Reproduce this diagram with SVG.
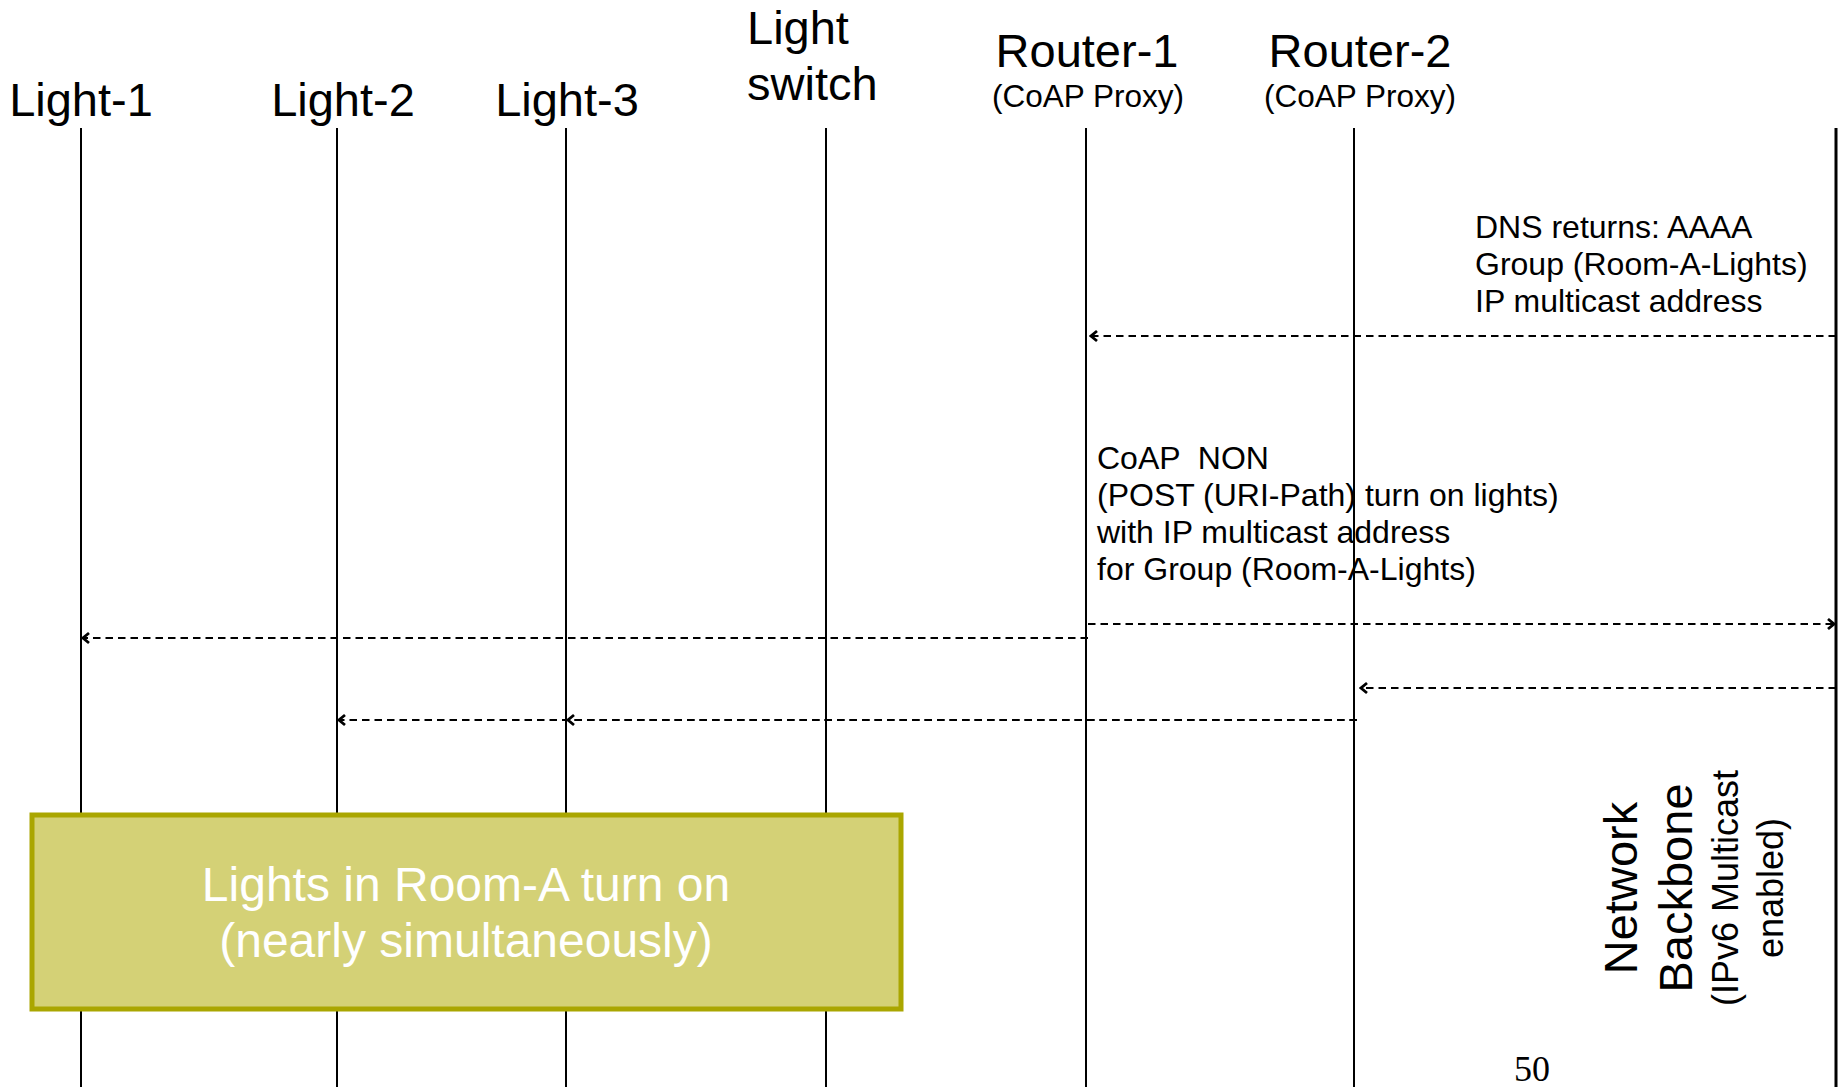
<svg xmlns="http://www.w3.org/2000/svg" width="1839" height="1087" viewBox="0 0 1839 1087">
  <style>
    .head { font-family: "Liberation Sans", Arial, sans-serif; font-size: 47px; fill: #000; }
    .sub { font-family: "Liberation Sans", Arial, sans-serif; font-size: 31.5px; fill: #000; }
    .body { font-family: "Liberation Sans", Arial, sans-serif; font-size: 32px; fill: #000; }
    .life { stroke: #000; stroke-width: 2; fill: none; }
    .msg { stroke: #000; stroke-width: 2.2; stroke-dasharray: 7.5 5; fill: none; marker-end: url(#arr); }
    .boxtext { font-family: "Liberation Sans", Arial, sans-serif; font-size: 48px; fill: #fff; }
    .bb { font-family: "Liberation Sans", Arial, sans-serif; fill: #000; }
  </style>
  <defs>
    <marker id="arr" markerUnits="userSpaceOnUse" viewBox="-10 -8 12 16" markerWidth="12" markerHeight="16" refX="0" refY="0" orient="auto">
      <path d="M-6,-5 L0,0 L-6,5" fill="none" stroke="#000" stroke-width="2.8"/>
    </marker>
  </defs>

  <g id="light-1">
    <text class="head" x="81" y="116" text-anchor="middle">Light-1</text>
    <line class="life" x1="81" y1="128" x2="81" y2="1087"/>
  </g>
  <g id="light-2">
    <text class="head" x="343" y="116" text-anchor="middle">Light-2</text>
    <line class="life" x1="337" y1="128" x2="337" y2="1087"/>
  </g>
  <g id="light-3">
    <text class="head" x="567" y="116" text-anchor="middle">Light-3</text>
    <line class="life" x1="566" y1="128" x2="566" y2="1087"/>
  </g>
  <g id="light-switch">
    <text class="head" x="747" y="44">Light</text>
    <text class="head" x="747" y="100">switch</text>
    <line class="life" x1="826" y1="128" x2="826" y2="1087"/>
  </g>
  <g id="router-1">
    <text class="head" x="1087" y="67" text-anchor="middle">Router-1</text>
    <text class="sub" x="1088" y="107" text-anchor="middle">(CoAP Proxy)</text>
    <line class="life" x1="1086" y1="128" x2="1086" y2="1087"/>
  </g>
  <g id="router-2">
    <text class="head" x="1360" y="67" text-anchor="middle">Router-2</text>
    <text class="sub" x="1360" y="107" text-anchor="middle">(CoAP Proxy)</text>
    <line class="life" x1="1354" y1="128" x2="1354" y2="1087"/>
  </g>
  <g id="network-backbone">
    <line x1="1836" y1="128" x2="1836" y2="1087" stroke="#000" stroke-width="3"/>
    <g transform="translate(0,888) rotate(-90)">
      <text class="bb" x="0" y="1637" font-size="47" text-anchor="middle">Network</text>
      <text class="bb" x="0" y="1692" font-size="47" text-anchor="middle">Backbone</text>
      <text class="bb" x="0" y="1738" font-size="36" text-anchor="middle">(IPv6 Multicast</text>
      <text class="bb" x="0" y="1783" font-size="36" text-anchor="middle">enabled)</text>
    </g>
  </g>

  <g id="dns-label">
    <text class="body" x="1475" y="238">DNS returns: AAAA</text>
    <text class="body" x="1475" y="275">Group (Room-A-Lights)</text>
    <text class="body" x="1475" y="312">IP multicast address</text>
  </g>
  <g id="coap-label">
    <text class="body" x="1097" y="469" xml:space="preserve">CoAP  NON</text>
    <text class="body" x="1097" y="506">(POST (URI-Path) turn on lights)</text>
    <text class="body" x="1097" y="543">with IP multicast address</text>
    <text class="body" x="1097" y="580">for Group (Room-A-Lights)</text>
  </g>

  <g id="result-box">
    <rect x="32" y="815" width="869" height="194" fill="#D4D176" stroke="#AAA600" stroke-width="5"/>
    <text class="boxtext" x="466" y="901" text-anchor="middle">Lights in Room-A turn on</text>
    <text class="boxtext" x="466" y="957" text-anchor="middle">(nearly simultaneously)</text>
  </g>

  <g id="connectors">
    <path class="msg" d="M1836,336 L1091,336"/>
    <path class="msg" d="M1088,624 L1834,624"/>
    <path class="msg" d="M1088,638 L83,638"/>
    <path class="msg" d="M1836,688 L1361,688"/>
    <path class="msg" d="M1357,720 L568,720"/>
    <path class="msg" d="M1357,720 L339,720"/>
  </g>

  <text x="1514" y="1081" font-family="'Liberation Serif', 'Times New Roman', serif" font-size="36" fill="#000">50</text>
</svg>
